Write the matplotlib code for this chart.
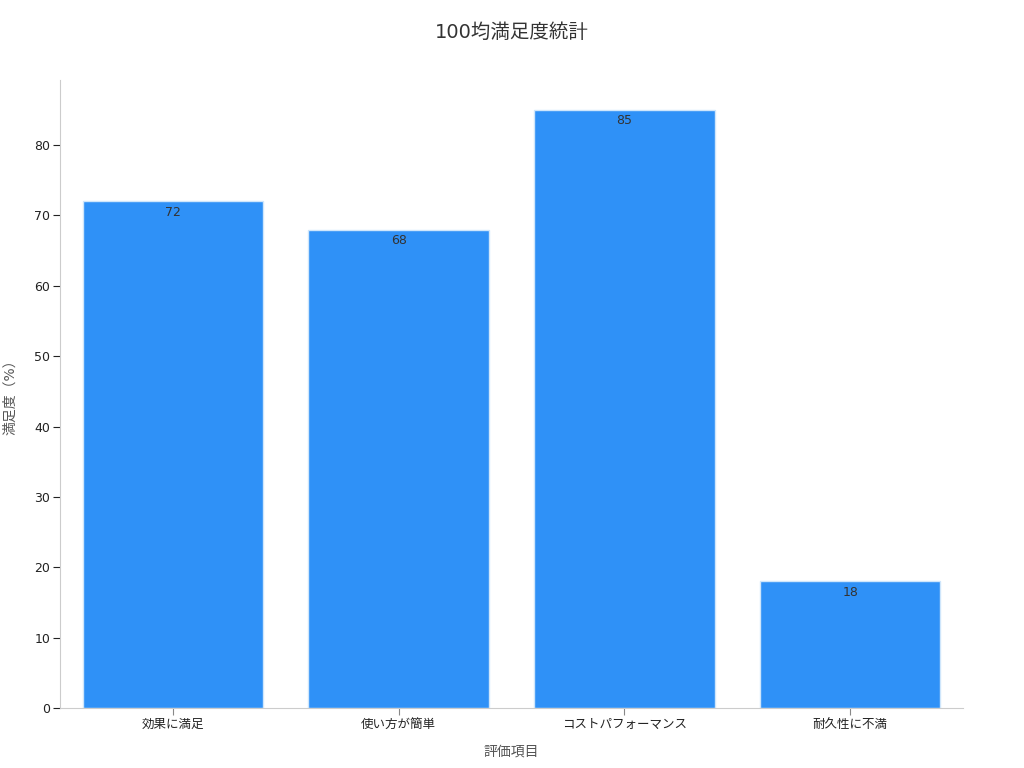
import matplotlib
matplotlib.use("Agg")
import matplotlib.pyplot as plt

categories = ["効果に満足", "使い方が簡単", "コストパフォーマンス", "耐久性に不満"]
values = [72, 68, 85, 18]
title = "100均満足度統計"
xlabel = "評価項目"
ylabel = "満足度（%）"

plt.rcParams['font.family'] = ['DejaVu Sans', 'Noto Sans CJK JP']

fig = plt.figure(figsize=(10.24, 7.68), dpi=100)
ax = fig.add_axes([60/1024, 1-708/768, 903/1024, 628/768])

x = list(range(len(categories)))
bars = ax.bar(x, values, width=0.8, color="#2f91f7", edgecolor="#cfe6fb", linewidth=1)
for xi, v in zip(x, values):
    ax.text(xi, v - 0.6, str(v), ha="center", va="top", fontsize=9, color="#333333")

ax.set_xlim(-0.5, 3.5)
ax.set_ylim(0, 89.25)
ax.set_xticks(x)
ax.set_xticklabels(categories, fontsize=9, color="#222222")
ax.set_yticks(range(0, 90, 10))
ax.tick_params(axis="y", labelsize=9, colors="#222222", length=5, pad=2)
ax.tick_params(axis="x", length=5, color="#888888", pad=2)
for s in ["top", "right"]:
    ax.spines[s].set_visible(False)
for s in ["left", "bottom"]:
    ax.spines[s].set_color("#cccccc")
ax.set_xlabel(xlabel, fontsize=10, color="#555555", labelpad=10)
ax.set_ylabel(ylabel, fontsize=10, color="#555555", labelpad=12)
fig.suptitle(title, fontsize=14, color="#333333", y=1-32/768, va="center")

fig.savefig("out.png", dpi=100)
